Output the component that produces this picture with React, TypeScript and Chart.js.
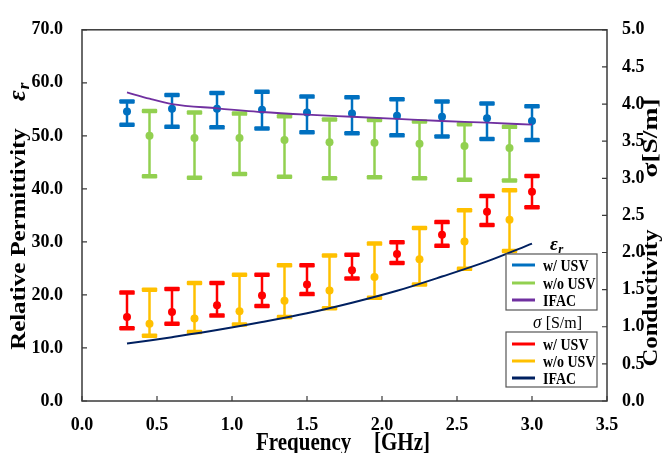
import { useEffect, useRef } from "react";
import { Chart, registerables } from "chart.js";

Chart.register(...registerables);

// ---- data ----
const freqWith = [0.3, 0.6, 0.9, 1.2, 1.5, 1.8, 2.1, 2.4, 2.7, 3.0];
const freqWithout = [0.45, 0.75, 1.05, 1.35, 1.65, 1.95, 2.25, 2.55, 2.85];
const freqIfac = [0.3, 0.45, 0.6, 0.9, 1.2, 1.5, 1.8, 2.1, 2.4, 2.7, 3.0];

const epsWithMean = [54.6, 55.1, 55.1, 54.9, 54.4, 54.2, 53.8, 53.6, 53.3, 52.8];
const epsWithUpper = [56.5, 57.7, 58.1, 58.3, 57.4, 57.3, 56.9, 56.5, 56.1, 55.6];
const epsWithLower = [52.1, 51.7, 51.6, 51.4, 50.7, 50.5, 50.1, 49.9, 49.4, 49.2];

const epsWithoutMean = [50.0, 49.6, 49.6, 49.2, 48.8, 48.7, 48.5, 48.1, 47.7];
const epsWithoutUpper = [54.7, 54.4, 54.2, 53.7, 53.1, 53.0, 52.7, 52.2, 51.7];
const epsWithoutLower = [42.4, 42.1, 42.8, 42.3, 42.0, 42.2, 42.0, 41.7, 41.6];

const epsIfac = [58.2, 57.0, 56.0, 55.2, 54.5, 54.0, 53.6, 53.2, 52.8, 52.5, 52.1];

const sigWithMean = [1.13, 1.2, 1.29, 1.42, 1.57, 1.76, 1.98, 2.24, 2.55, 2.82];
const sigWithUpper = [1.46, 1.51, 1.59, 1.7, 1.83, 1.97, 2.14, 2.41, 2.76, 3.03];
const sigWithLower = [0.98, 1.04, 1.15, 1.28, 1.44, 1.65, 1.86, 2.09, 2.37, 2.61];

const sigWithoutMean = [1.04, 1.11, 1.21, 1.35, 1.49, 1.67, 1.91, 2.15, 2.44];
const sigWithoutUpper = [1.5, 1.59, 1.7, 1.83, 1.96, 2.12, 2.33, 2.57, 2.84];
const sigWithoutLower = [0.88, 0.93, 1.03, 1.13, 1.25, 1.39, 1.57, 1.78, 2.02];

const sigIfac = [0.775, 0.815, 0.86, 0.955, 1.063, 1.181, 1.323, 1.484, 1.676, 1.88, 2.12];

const epsLegend = ["w/ USV", "w/o USV", "IFAC"];
const sigLegend = ["w/ USV", "w/o USV", "IFAC"];

const C_BLUE = "#0070C0";
const C_GREEN = "#92D050";
const C_PURPLE = "#7030A0";
const C_RED = "#FF0000";
const C_YELLOW = "#FFC000";
const C_NAVY = "#002060";

const SERIF = '"Liberation Serif", "Times New Roman", serif';
const AXIS_COLOR = "#3a3a3a";

const pts = (xs: number[], ys: number[]) => xs.map((x, i) => ({ x, y: ys[i] }));

const errorSets = [
  { freq: freqWith, upper: epsWithUpper, lower: epsWithLower, color: C_BLUE, axis: "y" },
  { freq: freqWithout, upper: epsWithoutUpper, lower: epsWithoutLower, color: C_GREEN, axis: "y" },
  { freq: freqWith, upper: sigWithUpper, lower: sigWithLower, color: C_RED, axis: "y2" },
  { freq: freqWithout, upper: sigWithoutUpper, lower: sigWithoutLower, color: C_YELLOW, axis: "y2" },
];

const errorBarsPlugin = {
  id: "errorBars",
  beforeDatasetsDraw(chart: any) {
    const ctx = chart.ctx;
    const xs = chart.scales.x;
    for (const e of errorSets) {
      const ys = chart.scales[e.axis];
      ctx.save();
      ctx.strokeStyle = e.color;
      ctx.fillStyle = e.color;
      ctx.lineWidth = 2.5;
      e.freq.forEach((f, i) => {
        const px = xs.getPixelForValue(f);
        const pu = ys.getPixelForValue(e.upper[i]);
        const pl = ys.getPixelForValue(e.lower[i]);
        ctx.beginPath();
        ctx.moveTo(px, pu);
        ctx.lineTo(px, pl);
        ctx.stroke();
        const w = 15.5;
        const h = 4.5;
        for (const py of [pu, pl]) {
          ctx.beginPath();
          (ctx as any).roundRect(px - w / 2, py - h / 2, w, h, 1.2);
          ctx.fill();
        }
      });
      ctx.restore();
    }
  },
};

function stretchedText(ctx: CanvasRenderingContext2D, text: string, x: number, y: number, sy: number) {
  ctx.save();
  ctx.translate(x, y);
  ctx.scale(1, sy);
  ctx.fillText(text, 0, 0);
  ctx.restore();
}

const framePlugin = {
  id: "frame",
  afterDraw(chart: any) {
    const ctx = chart.ctx as CanvasRenderingContext2D;
    const { left, right, top, bottom } = chart.chartArea;
    const xs = chart.scales.x;
    const yl = chart.scales.y;
    const yr = chart.scales.y2;
    ctx.save();
    // border
    ctx.strokeStyle = AXIS_COLOR;
    ctx.lineWidth = 1.5;
    ctx.strokeRect(left, top, right - left, bottom - top);
    // inside ticks
    ctx.lineWidth = 1.2;
    ctx.beginPath();
    xs.ticks.forEach((t: any) => {
      const p = xs.getPixelForValue(t.value);
      ctx.moveTo(p, bottom);
      ctx.lineTo(p, bottom - 5);
    });
    yl.ticks.forEach((t: any) => {
      const p = yl.getPixelForValue(t.value);
      ctx.moveTo(left, p);
      ctx.lineTo(left + 5, p);
    });
    yr.ticks.forEach((t: any) => {
      const p = yr.getPixelForValue(t.value);
      ctx.moveTo(right, p);
      ctx.lineTo(right - 5, p);
    });
    ctx.stroke();

    ctx.fillStyle = "#000";
    ctx.textBaseline = "alphabetic";

    // left title
    ctx.save();
    ctx.translate(25, 239);
    ctx.rotate(-Math.PI / 2);
    ctx.scale(1.13, 1);
    ctx.font = `bold 22px ${SERIF}`;
    ctx.textAlign = "center";
    ctx.fillText("Relative Permittivity", 0, 0);
    ctx.restore();
    // epsilon_r in left title
    ctx.save();
    ctx.translate(25, 101);
    ctx.rotate(-Math.PI / 2);
    ctx.textAlign = "left";
    ctx.font = `italic bold 26px ${SERIF}`;
    ctx.fillText("ε", 0, 0);
    const ew = ctx.measureText("ε").width;
    ctx.font = `italic bold 17px ${SERIF}`;
    ctx.fillText("r", ew + 1, 4);
    ctx.restore();

    // right title
    ctx.save();
    ctx.translate(657, 298);
    ctx.rotate(-Math.PI / 2);
    ctx.scale(1.12, 1);
    ctx.font = `bold 22px ${SERIF}`;
    ctx.textAlign = "center";
    ctx.fillText("Conductivity", 0, 0);
    ctx.restore();
    ctx.save();
    ctx.translate(657, 138);
    ctx.rotate(-Math.PI / 2);
    ctx.scale(1.25, 1);
    ctx.font = `bold 22px ${SERIF}`;
    ctx.textAlign = "center";
    ctx.fillText("σ[S/m]", 0, 0);
    ctx.restore();

    // x title
    ctx.font = `bold 21px ${SERIF}`;
    ctx.textAlign = "left";
    stretchedText(ctx, "Frequency", 256, 450, 1.2);
    stretchedText(ctx, "[GHz]", 374, 450, 1.2);

    // legends
    const drawBox = (y0: number, y1: number, labels: string[], colors: string[], rows: number[]) => {
      ctx.save();
      ctx.fillStyle = "#fff";
      ctx.fillRect(506, y0, 91, y1 - y0);
      ctx.strokeStyle = "#555";
      ctx.lineWidth = 1.2;
      ctx.strokeRect(506, y0, 91, y1 - y0);
      labels.forEach((lab, i) => {
        ctx.strokeStyle = colors[i];
        ctx.lineWidth = 3;
        ctx.beginPath();
        ctx.moveTo(512, rows[i]);
        ctx.lineTo(535, rows[i]);
        ctx.stroke();
        ctx.fillStyle = "#000";
        ctx.font = `bold 14px ${SERIF}`;
        ctx.textAlign = "left";
        ctx.textBaseline = "alphabetic";
        stretchedText(ctx, lab, 543, rows[i] + 6, 1.15);
      });
      ctx.restore();
    };
    drawBox(254, 310, epsLegend, [C_BLUE, C_GREEN, C_PURPLE], [265, 283, 300]);
    drawBox(332, 387, sigLegend, [C_RED, C_YELLOW, C_NAVY], [344, 361, 378]);

    // legend titles
    ctx.fillStyle = "#000";
    ctx.textBaseline = "alphabetic";
    ctx.textAlign = "left";
    ctx.font = `italic bold 19px ${SERIF}`;
    ctx.fillText("ε", 550, 250);
    const w1 = ctx.measureText("ε").width;
    ctx.font = `italic bold 13px ${SERIF}`;
    ctx.fillText("r", 550 + w1 + 0.5, 253);

    ctx.font = `italic 17px ${SERIF}`;
    stretchedText(ctx, "σ", 533, 328, 1.1);
    const w2 = ctx.measureText("σ ").width;
    ctx.font = `16px ${SERIF}`;
    stretchedText(ctx, "[S/m]", 533 + w2, 328, 1.1);

    ctx.restore();
  },
};

export default function App() {
  const ref = useRef<HTMLCanvasElement | null>(null);

  useEffect(() => {
    if (!ref.current) return;
    const tickFont = { family: SERIF, size: 18, weight: "bold" as const };
    const chart = new Chart(ref.current, {
      type: "scatter",
      data: {
        datasets: [
          {
            label: "ε IFAC",
            data: pts(freqIfac, epsIfac),
            showLine: true,
            borderColor: C_PURPLE,
            borderWidth: 1.8,
            pointRadius: 0,
            cubicInterpolationMode: "monotone",
            yAxisID: "y",
          },
          {
            label: "σ IFAC",
            data: pts(freqIfac, sigIfac),
            showLine: true,
            borderColor: C_NAVY,
            borderWidth: 2,
            pointRadius: 0,
            cubicInterpolationMode: "monotone",
            yAxisID: "y2",
          },
          {
            label: "ε w/ USV",
            data: pts(freqWith, epsWithMean),
            backgroundColor: C_BLUE,
            borderWidth: 0,
            pointRadius: 4,
            yAxisID: "y",
          },
          {
            label: "ε w/o USV",
            data: pts(freqWithout, epsWithoutMean),
            backgroundColor: C_GREEN,
            borderWidth: 0,
            pointRadius: 4,
            yAxisID: "y",
          },
          {
            label: "σ w/ USV",
            data: pts(freqWith, sigWithMean),
            backgroundColor: C_RED,
            borderWidth: 0,
            pointRadius: 4,
            yAxisID: "y2",
          },
          {
            label: "σ w/o USV",
            data: pts(freqWithout, sigWithoutMean),
            backgroundColor: C_YELLOW,
            borderWidth: 0,
            pointRadius: 4,
            yAxisID: "y2",
          },
        ],
      },
      options: {
        responsive: false,
        animation: false,
        layout: { padding: { top: 23, left: 0, right: 0, bottom: 0 } },
        plugins: { legend: { display: false }, tooltip: { enabled: false }, title: { display: false } },
        scales: {
          x: {
            type: "linear",
            min: 0,
            max: 3.5,
            grid: { display: false, drawTicks: false },
            border: { display: false },
            ticks: {
              stepSize: 0.5,
              autoSkip: false,
              maxRotation: 0,
              padding: 14,
              color: "#000",
              font: tickFont,
              callback: (v: any) => Number(v).toFixed(1),
            },
            afterFit: (s: any) => {
              s.height = 52;
            },
          },
          y: {
            position: "left",
            min: 0,
            max: 70,
            grid: { display: false, drawTicks: false },
            border: { display: false },
            ticks: {
              stepSize: 10,
              padding: 19,
              color: "#000",
              font: tickFont,
              callback: (v: any) => Number(v).toFixed(1),
            },
            afterFit: (s: any) => {
              s.width = 82;
            },
          },
          y2: {
            position: "right",
            min: 0,
            max: 5,
            grid: { display: false, drawTicks: false },
            border: { display: false },
            ticks: {
              stepSize: 0.5,
              padding: 15,
              color: "#000",
              font: tickFont,
              callback: (v: any) => Number(v).toFixed(1),
            },
            afterFit: (s: any) => {
              s.width = 58;
            },
          },
        },
      } as any,
      plugins: [errorBarsPlugin, framePlugin],
    });
    return () => chart.destroy();
  }, []);

  return (
    <div style={{ position: "fixed", left: 0, top: 0, width: 665, height: 453, background: "#fff" }}>
      <canvas ref={ref} width={665} height={453} style={{ width: 665, height: 453, display: "block" }} />
    </div>
  );
}
